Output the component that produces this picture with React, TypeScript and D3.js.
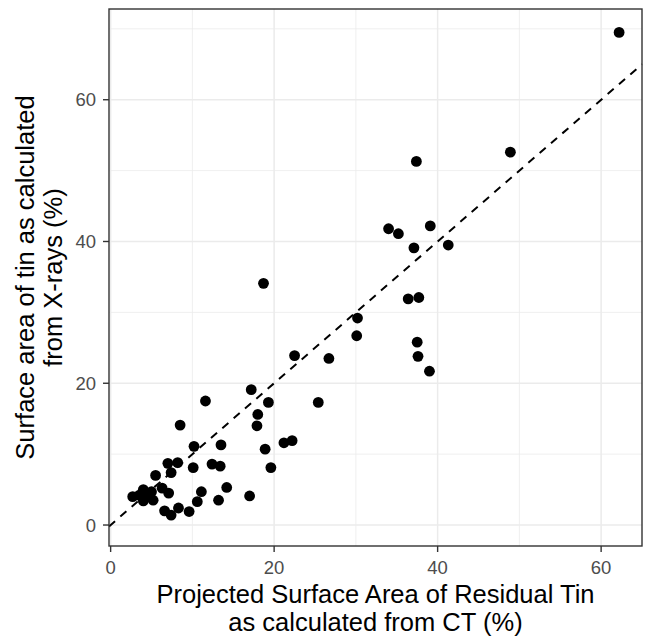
import React from 'react';
import * as d3 from 'd3';

// values
const ctArea = [
  62.2, 37.4, 48.9, 34.0, 35.2, 39.1, 37.1, 41.3, 36.4, 37.7,
  30.2, 30.1, 37.5, 37.6, 39.0, 18.7, 22.5, 26.7, 17.2, 11.6,
  19.3, 25.4, 18.0, 17.9, 8.5, 10.2, 13.5, 18.9, 21.2, 22.2,
  19.6, 10.1, 12.4, 13.4, 7.0, 8.2, 7.4, 5.5, 14.2, 11.1,
  17.0, 13.2, 10.6, 6.3, 7.1, 2.7, 3.5, 4.0, 4.0, 5.0,
  5.2, 4.4, 6.6, 7.4, 8.3, 9.6,
];
const xrayArea = [
  69.5, 51.3, 52.6, 41.8, 41.1, 42.2, 39.1, 39.5, 31.9, 32.1,
  29.2, 26.7, 25.8, 23.8, 21.7, 34.1, 23.9, 23.5, 19.1, 17.5,
  17.3, 17.3, 15.6, 14.0, 14.1, 11.1, 11.3, 10.7, 11.6, 11.9,
  8.1, 8.1, 8.6, 8.3, 8.7, 8.8, 7.4, 7.0, 5.3, 4.7,
  4.1, 3.5, 3.3, 5.2, 4.5, 4.0, 4.2, 5.0, 3.4, 4.7,
  3.5, 4.2, 2.0, 1.4, 2.4, 1.9,
];
const xTicks = [0, 20, 40, 60];
const yTicks = [0, 20, 40, 60];
const xMinor = [10, 30, 50];
const yMinor = [10, 30, 50, 70];
const xTitle = ['Projected Surface Area of Residual Tin', 'as calculated from CT (%)'];
const yTitle = ['Surface area of tin as calculated', 'from X-rays (%)'];

const W = 649;
const H = 637;
const panel = { left: 109, right: 642, top: 9, bottom: 546 };
const font = "'Liberation Sans', Arial, sans-serif";

export default function App() {
  const x = d3.scaleLinear().domain([-0.2, 65.0]).range([panel.left, panel.right]);
  const y = d3.scaleLinear().domain([-2.96, 72.8]).range([panel.bottom, panel.top]);
  const points = ctArea.map((v, i) => ({ x: v, y: xrayArea[i] }));

  // y = x reference line, clipped to the panel
  const lo = Math.max(x.domain()[0], y.domain()[0]);
  const hi = Math.min(x.domain()[1], y.domain()[1]);

  const midY = (panel.top + panel.bottom) / 2;
  const midX = (panel.left + panel.right) / 2;

  return (
    <svg width={W} height={H} style={{ position: 'absolute', left: 0, top: 0, background: '#fff' }}>
      <rect x={0} y={0} width={W} height={H} fill="#fff" />
      {/* grid */}
      {xMinor.map(t => (
        <line key={'xm' + t} x1={x(t)} x2={x(t)} y1={panel.top} y2={panel.bottom} stroke="#EBEBEB" strokeWidth={0.8} />
      ))}
      {yMinor.map(t => (
        <line key={'ym' + t} x1={panel.left} x2={panel.right} y1={y(t)} y2={y(t)} stroke="#EBEBEB" strokeWidth={0.8} />
      ))}
      {xTicks.map(t => (
        <line key={'xg' + t} x1={x(t)} x2={x(t)} y1={panel.top} y2={panel.bottom} stroke="#EBEBEB" strokeWidth={1.5} />
      ))}
      {yTicks.map(t => (
        <line key={'yg' + t} x1={panel.left} x2={panel.right} y1={y(t)} y2={y(t)} stroke="#EBEBEB" strokeWidth={1.5} />
      ))}

      {/* points */}
      {points.map((p, i) => (
        <circle key={i} cx={x(p.x)} cy={y(p.y)} r={5.4} fill="#000" />
      ))}

      {/* dashed y = x */}
      <line x1={x(lo)} y1={y(lo)} x2={x(hi)} y2={y(hi)} stroke="#000" strokeWidth={2} strokeDasharray="8,7" />

      {/* panel border */}
      <rect x={panel.left} y={panel.top} width={panel.right - panel.left} height={panel.bottom - panel.top}
        fill="none" stroke="#333" strokeWidth={1.4} />

      {/* x axis */}
      {xTicks.map(t => (
        <g key={'xt' + t}>
          <line x1={x(t)} x2={x(t)} y1={panel.bottom} y2={panel.bottom + 6} stroke="#333" strokeWidth={1.4} />
          <text x={x(t)} y={574} textAnchor="middle" fontFamily={font} fontSize={18.5} fill="#4D4D4D">{t}</text>
        </g>
      ))}
      {/* y axis */}
      {yTicks.map(t => (
        <g key={'yt' + t}>
          <line x1={panel.left - 6} x2={panel.left} y1={y(t)} y2={y(t)} stroke="#333" strokeWidth={1.4} />
          <text x={panel.left - 13} y={y(t) + 6.7} textAnchor="end" fontFamily={font} fontSize={18.5} fill="#4D4D4D">{t}</text>
        </g>
      ))}

      {/* titles */}
      {xTitle.map((s, i) => (
        <text key={'xl' + i} x={midX} y={603 + i * 28} textAnchor="middle" fontFamily={font} fontSize={25.5} fill="#000">{s}</text>
      ))}
      {yTitle.map((s, i) => (
        <text key={'yl' + i} transform={`translate(${34 + i * 28},${midY}) rotate(-90)`} textAnchor="middle"
          fontFamily={font} fontSize={25.5} fill="#000">{s}</text>
      ))}
    </svg>
  );
}
